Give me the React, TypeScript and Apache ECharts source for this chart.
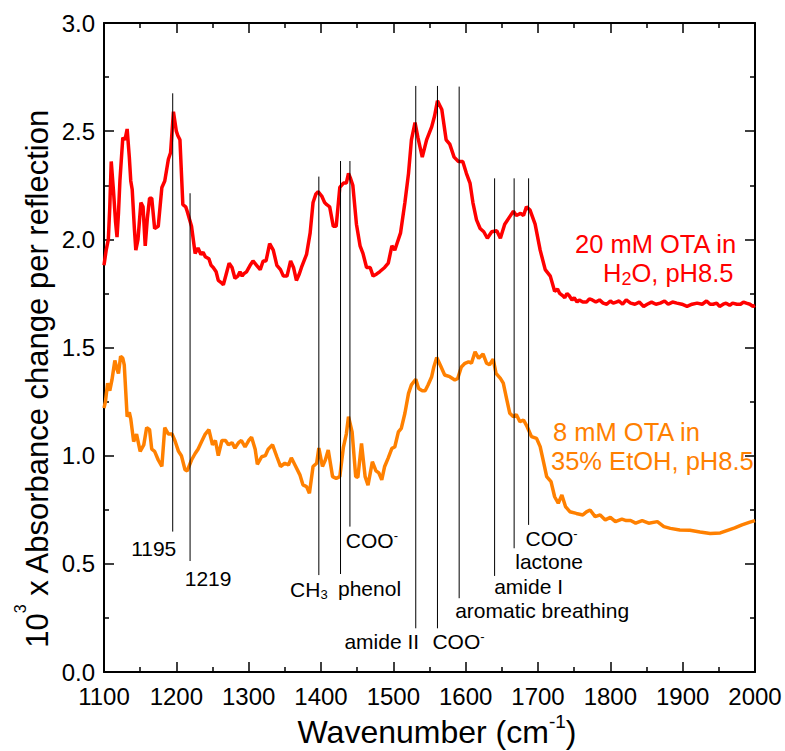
import React, { useEffect, useRef } from 'react';
import * as echarts from 'echarts';

const FONT = '"Liberation Sans", Arial, Helvetica, sans-serif';
const RED = '#ff0000';
const ORANGE = '#ff8000';

// [wavenumber (cm-1), 10^3 x absorbance change]
const redSpectrum: [number, number][] = [
  [1100, 1.88], [1103, 1.95], [1106, 2.0], [1108, 2.15], [1110, 2.36], [1113, 2.23], [1116, 2.08], [1118, 2.01],
  [1120, 2.12], [1122, 2.27], [1126, 2.47], [1129, 2.46], [1132, 2.51], [1135, 2.38], [1137, 2.27], [1139, 2.23],
  [1142, 2.05], [1144, 1.95], [1147, 2.0], [1151, 2.17], [1154, 2.15], [1157, 1.97], [1160, 2.1], [1163, 2.19],
  [1166, 2.19], [1170, 2.05], [1175, 2.06], [1180, 2.24], [1184, 2.27], [1189, 2.37], [1192, 2.4], [1196, 2.59],
  [1200, 2.5], [1202, 2.48], [1205, 2.46], [1209, 2.16], [1213, 2.15], [1215, 2.13], [1221, 2.06], [1226, 1.935],
  [1230, 1.96], [1234, 1.93], [1237, 1.94], [1240, 1.92], [1245, 1.91], [1248, 1.88], [1251, 1.87], [1255, 1.85],
  [1258, 1.81], [1262, 1.8], [1265, 1.79], [1269, 1.84], [1273, 1.89], [1277, 1.87], [1281, 1.82], [1285, 1.83],
  [1288, 1.85], [1291, 1.83], [1293, 1.84], [1297, 1.85], [1302, 1.88], [1306, 1.9], [1311, 1.88], [1316, 1.86],
  [1320, 1.9], [1324, 1.9], [1329, 1.98], [1334, 1.95], [1339, 1.88], [1344, 1.86], [1348, 1.83], [1353, 1.83],
  [1358, 1.9], [1362, 1.87], [1366, 1.81], [1370, 1.84], [1373, 1.87], [1380, 1.93], [1385, 2.03], [1389, 2.17],
  [1393, 2.21], [1396, 2.22], [1401, 2.2], [1405, 2.17], [1408, 2.16], [1412, 2.15], [1417, 2.06], [1421, 2.06],
  [1426, 2.24], [1431, 2.26], [1435, 2.26], [1438, 2.305], [1441, 2.28], [1444, 2.25], [1449, 2.07], [1454, 1.97],
  [1458, 1.935], [1463, 1.87], [1468, 1.87], [1472, 1.83], [1477, 1.84], [1481, 1.85], [1488, 1.87], [1493, 1.89],
  [1498, 1.97], [1502, 1.95], [1506, 1.99], [1510, 2.03], [1516, 2.17], [1521, 2.305], [1525, 2.46], [1530, 2.54],
  [1534, 2.47], [1540, 2.38], [1546, 2.46], [1553, 2.52], [1557, 2.57], [1561, 2.64], [1567, 2.6], [1573, 2.46],
  [1578, 2.44], [1584, 2.38], [1590, 2.36], [1596, 2.36], [1601, 2.305], [1606, 2.26], [1610, 2.17], [1615, 2.09],
  [1620, 2.05], [1625, 2.035], [1630, 2.005], [1636, 2.035], [1643, 2.04], [1648, 2.005], [1654, 2.07], [1661, 2.105],
  [1666, 2.13], [1670, 2.11], [1676, 2.12], [1680, 2.11], [1684, 2.15], [1689, 2.135], [1696, 2.07], [1703, 1.95],
  [1710, 1.86], [1717, 1.83], [1723, 1.76], [1727, 1.77], [1730, 1.75], [1734, 1.74], [1737, 1.73], [1740, 1.75],
  [1743, 1.74], [1747, 1.72], [1750, 1.73], [1754, 1.71], [1757, 1.72], [1762, 1.71], [1767, 1.71], [1771, 1.725],
  [1775, 1.72], [1780, 1.71], [1785, 1.72], [1790, 1.705], [1795, 1.7], [1800, 1.715], [1804, 1.705], [1808, 1.71],
  [1812, 1.715], [1817, 1.7], [1822, 1.72], [1828, 1.705], [1834, 1.7], [1840, 1.71], [1846, 1.69], [1851, 1.7],
  [1857, 1.71], [1863, 1.7], [1869, 1.705], [1875, 1.715], [1880, 1.7], [1886, 1.71], [1892, 1.705], [1899, 1.7],
  [1906, 1.69], [1913, 1.7], [1920, 1.705], [1927, 1.7], [1933, 1.715], [1938, 1.7], [1942, 1.7], [1947, 1.705],
  [1951, 1.69], [1956, 1.7], [1960, 1.705], [1965, 1.695], [1969, 1.705], [1975, 1.7], [1980, 1.7], [1984, 1.71],
  [1988, 1.705], [1993, 1.7], [1997, 1.69], [2000, 1.695],
];

const orangeSpectrum: [number, number][] = [
  [1100, 1.22], [1102, 1.25], [1105, 1.335], [1108, 1.3], [1111, 1.35], [1115, 1.44], [1118, 1.4], [1120, 1.38],
  [1123, 1.46], [1126, 1.45], [1128, 1.42], [1132, 1.18], [1135, 1.2], [1137, 1.17], [1141, 1.065], [1145, 1.1],
  [1150, 1.02], [1155, 1.05], [1159, 1.13], [1163, 1.12], [1166, 1.03], [1170, 1.02], [1175, 0.98], [1180, 0.95],
  [1184, 1.13], [1189, 1.1], [1194, 1.1], [1198, 1.07], [1203, 1.02], [1207, 1.0], [1212, 0.935], [1215, 0.93],
  [1221, 0.98], [1226, 1.01], [1230, 1.03], [1235, 1.065], [1240, 1.1], [1245, 1.12], [1250, 1.05], [1254, 1.07],
  [1258, 1.0], [1263, 1.07], [1268, 1.07], [1272, 1.05], [1277, 1.06], [1281, 1.035], [1286, 1.06], [1290, 1.07],
  [1295, 1.04], [1300, 1.07], [1304, 1.085], [1309, 1.03], [1312, 0.96], [1318, 0.995], [1323, 1.0], [1327, 1.03],
  [1333, 1.05], [1339, 0.995], [1344, 0.95], [1350, 0.965], [1355, 0.957], [1359, 0.99], [1364, 0.957], [1371, 0.91],
  [1375, 0.865], [1380, 0.857], [1384, 0.826], [1389, 0.95], [1394, 0.965], [1397, 1.035], [1402, 0.95], [1406, 0.98],
  [1410, 1.026], [1416, 0.903], [1421, 0.895], [1426, 0.903], [1431, 1.04], [1435, 1.1], [1438, 1.18], [1443, 1.11],
  [1448, 0.903], [1451, 0.9], [1456, 1.057], [1461, 0.903], [1465, 0.864], [1471, 0.972], [1476, 0.93], [1480, 0.92],
  [1484, 0.888], [1488, 0.95], [1493, 0.99], [1498, 1.034], [1502, 1.04], [1507, 1.11], [1511, 1.126], [1516, 1.196],
  [1521, 1.288], [1525, 1.327], [1531, 1.353], [1535, 1.31], [1540, 1.3], [1544, 1.3], [1548, 1.327], [1553, 1.365],
  [1556, 1.41], [1560, 1.454], [1565, 1.418], [1571, 1.373], [1578, 1.365], [1585, 1.35], [1589, 1.357], [1594, 1.41],
  [1599, 1.427], [1604, 1.434], [1608, 1.427], [1613, 1.48], [1618, 1.45], [1624, 1.47], [1629, 1.427], [1633, 1.42],
  [1638, 1.446], [1642, 1.38], [1648, 1.357], [1652, 1.335], [1657, 1.257], [1661, 1.196], [1666, 1.18], [1670, 1.19],
  [1675, 1.157], [1680, 1.165], [1685, 1.134], [1691, 1.088], [1698, 1.08], [1703, 1.042], [1708, 0.965], [1712, 0.903],
  [1718, 0.88], [1723, 0.81], [1728, 0.78], [1733, 0.818], [1738, 0.765], [1744, 0.741], [1753, 0.733], [1762, 0.726],
  [1767, 0.74], [1772, 0.749], [1779, 0.718], [1786, 0.726], [1793, 0.703], [1800, 0.715], [1807, 0.695], [1816, 0.707],
  [1822, 0.7], [1828, 0.7], [1835, 0.688], [1844, 0.7], [1853, 0.688], [1865, 0.695], [1874, 0.672], [1883, 0.664],
  [1896, 0.656], [1910, 0.655], [1924, 0.647], [1938, 0.64], [1952, 0.643], [1962, 0.655], [1972, 0.666], [1982, 0.68],
  [1993, 0.693], [2000, 0.7],
];

// band assignment marker lines
const annoWavenumber = [1195, 1219, 1397, 1427, 1440, 1531, 1561, 1591, 1640, 1667, 1687];
const annoTop = [2.675, 2.213, 2.29, 2.362, 2.362, 2.709, 2.709, 2.706, 2.282, 2.282, 2.282];
const annoBottom = [0.649, 0.513, 0.448, 0.453, 0.672, 0.202, 0.202, 0.341, 0.444, 0.572, 0.68];
const annoLabel = ['1195', '1219', 'CH{sub|3}', 'phenol', 'COO{sup|-}', 'amide II', 'COO{sup|-}', 'aromatic breathing', 'amide I', 'lactone', 'COO{sup|-}'];

// label offsets (px) relative to the lower end of each marker line
const annoLabelOffset = [[-19, 17], [18, 17], [-10, 14], [29, 14], [22, 14], [-34, 13.5], [21, 13.5], [83, 12], [34, 11], [35, 13], [23, 14]];

const measure = (text: string, size: number) => {
  const ctx = document.createElement('canvas').getContext('2d');
  if (!ctx) return text.length * size * 0.55;
  ctx.font = `${size}px "Liberation Sans", Arial, sans-serif`;
  return ctx.measureText(text).width;
};

export default function App() {
  const ref = useRef<HTMLDivElement>(null);

  useEffect(() => {
    if (!ref.current) return;
    const chart = echarts.init(ref.current, null, { renderer: 'svg' });

    const axisCommon = {
      type: 'value' as const,
      axisLine: { show: true, onZero: false, lineStyle: { color: '#000', width: 2 } },
      axisTick: { show: true, inside: true, length: 10, lineStyle: { color: '#000', width: 1.5 } },
      minorTick: { show: true, splitNumber: 2, length: 5, lineStyle: { color: '#000', width: 1.5 } },
      splitLine: { show: false },
      minorSplitLine: { show: false },
    };
    const labelStyle = { color: '#000', fontSize: 24, fontFamily: FONT };

    // Y title pieces
    const yFs = 31, ySupFs = 16;
    const yA = '10', yB = '3', yC = ' x Absorbance change per reflection';
    const wA = measure(yA, yFs), wB = measure(yB, ySupFs), wC = measure(yC, yFs);
    const y0 = -(wA + wB + wC) / 2;

    // X title pieces
    const xFs = 32, xSupFs = 19;
    const xA = 'Wavenumber (cm', xB = '-1', xC = ')';
    const vA = measure(xA, xFs), vB = measure(xB, xSupFs), vC = measure(xC, xFs);
    const x0 = -(vA + vB + vC) / 2;

    const txt = (text: string, x: number, y: number, size: number, fill = '#000', align = 'left') => ({
      type: 'text', x, y,
      style: { text, fontSize: size, fontFamily: FONT, fill, align, verticalAlign: 'middle' },
    });

    const annoSeries = annoWavenumber.map((w, i) => ({
      type: 'line',
      xAxisIndex: 0, yAxisIndex: 0,
      data: [[w, annoTop[i]], [w, annoBottom[i]]],
      symbol: 'none',
      silent: true,
      z: 5,
      lineStyle: { color: '#000', width: 1 },
    }));

    const option: any = {
      animation: false,
      backgroundColor: '#fff',
      grid: { left: 104, right: 30, top: 23, bottom: 79, containLabel: false },
      xAxis: [
        { ...axisCommon, position: 'bottom', min: 1100, max: 2000, interval: 100, axisLabel: { ...labelStyle, margin: 12, formatter: (v: number) => String(v) } },
        { ...axisCommon, position: 'top', min: 1100, max: 2000, interval: 100, axisLabel: { show: false } },
      ],
      yAxis: [
        { ...axisCommon, position: 'left', min: 0, max: 3, interval: 0.5, axisLabel: { ...labelStyle, margin: 9, formatter: (v: number) => v.toFixed(1) } },
        { ...axisCommon, position: 'right', min: 0, max: 3, interval: 0.5, axisLabel: { show: false } },
      ],
      series: [
        { type: 'line', data: redSpectrum, symbol: 'none', z: 3, lineStyle: { color: RED, width: 3.5 }, itemStyle: { color: RED } },
        { type: 'line', data: orangeSpectrum, symbol: 'none', z: 3, lineStyle: { color: ORANGE, width: 3.5 }, itemStyle: { color: ORANGE } },
        ...annoSeries,
        {
          type: 'scatter',
          symbol: 'circle',
          symbolSize: 0.01,
          z: 6,
          silent: true,
          itemStyle: { color: '#000', opacity: 1 },
          data: annoWavenumber.map((w, i) => ({
            value: [w, annoBottom[i]],
            label: { formatter: () => annoLabel[i], offset: annoLabelOffset[i] },
          })),
          label: {
            show: true,
            position: 'inside',
            color: '#000',
            opacity: 1,
            fontSize: 21,
            lineHeight: 23,
            fontFamily: FONT,
            rich: {
              sup: { fontSize: 13, lineHeight: 9, verticalAlign: 'top', color: '#000', fontFamily: FONT },
              sub: { fontSize: 13, lineHeight: 2, verticalAlign: 'bottom', color: '#000', fontFamily: FONT },
            },
          },
        },
      ],
      graphic: [
        txt('20 mM OTA in', 575, 244, 25.5, RED),
        {
          type: 'text', x: 603, y: 273,
          style: {
            text: 'H{sub|2}O, pH8.5', fontSize: 25.5, lineHeight: 29, fontFamily: FONT, fill: RED, align: 'left', verticalAlign: 'middle',
            rich: { sub: { fontSize: 18, lineHeight: 6, verticalAlign: 'bottom', fill: RED, fontFamily: FONT } },
          },
        },
        txt('8 mM OTA in', 553, 432, 25.5, ORANGE),
        txt('35% EtOH, pH8.5', 551, 461, 25.5, ORANGE),
        {
          type: 'group', x: 437, y: 732,
          children: [
            txt(xA, x0, 0, xFs),
            txt(xB, x0 + vA, -11, xSupFs),
            txt(xC, x0 + vA + vB, 0, xFs),
          ],
        },
        {
          type: 'group', x: 37, y: 378, rotation: Math.PI / 2,
          children: [
            txt(yA, y0, 0, yFs),
            txt(yB, y0 + wA, -17, ySupFs),
            txt(yC, y0 + wA + wB, 0, yFs),
          ],
        },
      ],
    };

    chart.setOption(option);
    return () => chart.dispose();
  }, []);

  return <div ref={ref} style={{ position: 'absolute', left: 0, top: 0, width: 785, height: 751 }} />;
}
